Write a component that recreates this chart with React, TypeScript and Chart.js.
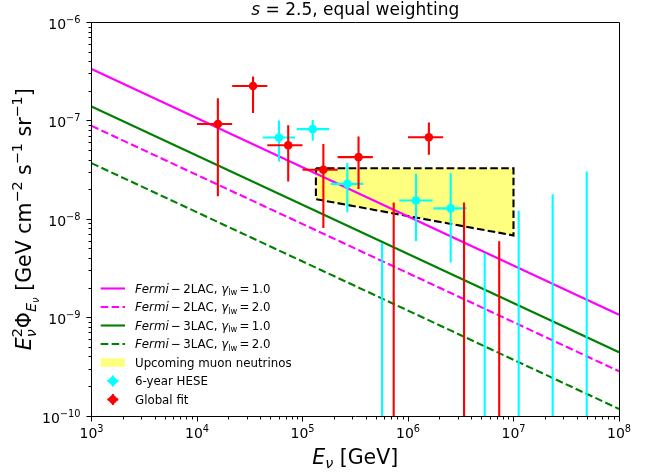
import { useEffect, useRef } from 'react';
import { Chart, registerables } from 'chart.js';

Chart.register(...registerables);

// ---------------- data ----------------
const LINE_ENERGY = [1e3, 1e8];
const FERMI_2LAC_G1 = [3.37e-7, 1.07e-9];
const FERMI_2LAC_G2 = [8.9e-8, 2.85e-10];
const FERMI_3LAC_G1 = [1.4e-7, 4.45e-10];
const FERMI_3LAC_G2 = [3.72e-8, 1.18e-10];

const MUON_ENERGY = [1.34e5, 1e7, 1e7, 1.34e5, 1.34e5];
const MUON_FLUX = [3.3e-8, 3.3e-8, 6.85e-9, 1.6e-8, 3.3e-8];

const HESE_E = [5.98e4, 1.25e5, 2.66e5, 1.19e6, 2.54e6];
const HESE_E_LO = [4.2e4, 8.81e4, 1.85e5, 8.28e5, 1.74e6];
const HESE_E_HI = [8.49e4, 1.79e5, 3.77e5, 1.71e6, 3.6e6];
const HESE_FLUX = [6.78e-8, 8.24e-8, 2.29e-8, 1.55e-8, 1.29e-8];
const HESE_FLUX_LO = [3.86e-8, 6.27e-8, 1.18e-8, 5.96e-9, 3.64e-9];
const HESE_FLUX_HI = [1.01e-7, 1.02e-7, 3.72e-8, 2.9e-8, 2.94e-8];
const HESE_UL_E = [5.68e5, 5.33e6, 1.12e7, 2.35e7, 4.94e7];
const HESE_UL_FLUX = [5.73e-9, 4.54e-9, 1.22e-8, 1.8e-8, 3.05e-8];

const GLOBAL_E = [1.577e4, 3.398e4, 7.32e4, 1.577e5, 3.398e5, 1.577e6];
const GLOBAL_E_LO = [1e4, 2.154e4, 4.642e4, 1e5, 2.154e5, 1e6];
const GLOBAL_E_HI = [2.154e4, 4.642e4, 1e5, 2.154e5, 4.642e5, 2.154e6];
const GLOBAL_FLUX = [9.3e-8, 2.26e-7, 5.66e-8, 3.18e-8, 4.28e-8, 6.82e-8];
const GLOBAL_FLUX_LO = [1.71e-8, 1.2e-7, 2.42e-8, 8.15e-9, 2.03e-8, 4.52e-8];
const GLOBAL_FLUX_HI = [1.7e-7, 2.82e-7, 9.04e-8, 5.83e-8, 6.93e-8, 9.61e-8];
const GLOBAL_UL_E = [7.32e5, 3.4e6, 7.32e6];
const GLOBAL_UL_FLUX = [1.48e-8, 1.48e-8, 5.96e-9];

// upper limits extend down to zero flux (off the log axis)
const UL_FLOOR = 1e-12;

const X_TICK_EXP = [3, 4, 5, 6, 7, 8];
const Y_TICK_EXP = [-10, -9, -8, -7, -6];
const X_MIN = 1e3, X_MAX = 1e8, Y_MIN = 1e-10, Y_MAX = 1e-6;

const TITLE_TEXT = ['s', ' = 2.5', ', equal weighting'];
const LEGEND_LABELS = [
  'Fermi − 2LAC, γlw = 1.0',
  'Fermi − 2LAC, γlw = 2.0',
  'Fermi − 3LAC, γlw = 1.0',
  'Fermi − 3LAC, γlw = 2.0',
  'Upcoming muon neutrinos',
  '6-year HESE',
  'Global fit',
];

// ---------------- styling ----------------
const W = 647, H = 474;
const MAGENTA = '#ff00ff', GREEN = '#008000', CYAN = '#00ffff', RED = '#ff0000';
const YELLOW_FILL = 'rgba(255,255,0,0.5)';
const DASH = [7.6, 3.3];
const LW = 2.1;
const FAM = '"DejaVu Sans", "Liberation Sans", sans-serif';

type Seg = { t: string; s: number; i?: boolean; dy?: number };
type Col = Seg | Seg[];
const fontOf = (g: Seg) => `${g.i ? 'italic ' : ''}${g.s}px ${FAM}`;

function richWidth(ctx: CanvasRenderingContext2D, cols: Col[]) {
  let w = 0;
  for (const c of cols) {
    const arr = Array.isArray(c) ? c : [c];
    let m = 0;
    for (const g of arr) { ctx.font = fontOf(g); m = Math.max(m, ctx.measureText(g.t).width); }
    w += m;
  }
  return w;
}
function drawRich(ctx: CanvasRenderingContext2D, cols: Col[], x: number, y: number, align: 'left' | 'center' | 'right') {
  const w = richWidth(ctx, cols);
  let cx = align === 'center' ? x - w / 2 : align === 'right' ? x - w : x;
  ctx.textAlign = 'left';
  ctx.textBaseline = 'alphabetic';
  for (const c of cols) {
    const arr = Array.isArray(c) ? c : [c];
    let m = 0;
    for (const g of arr) {
      ctx.font = fontOf(g);
      ctx.fillText(g.t, cx, y + (g.dy || 0));
      m = Math.max(m, ctx.measureText(g.t).width);
    }
    cx += m;
  }
}

function lineData(xs: number[], ys: number[]) {
  return xs.map((x, k) => ({ x, y: ys[k] }));
}
function errBars(E: number[], Elo: number[], Ehi: number[], F: number[], Flo: number[], Fhi: number[]) {
  const out: { x: number; y: number | null }[] = [];
  E.forEach((e, k) => {
    out.push({ x: Elo[k], y: F[k] }, { x: Ehi[k], y: F[k] }, { x: e, y: null });
    out.push({ x: e, y: Flo[k] }, { x: e, y: Fhi[k] }, { x: e, y: null });
  });
  return out;
}
function ulBars(E: number[], F: number[]) {
  const out: { x: number; y: number | null }[] = [];
  E.forEach((e, k) => {
    out.push({ x: e, y: UL_FLOOR }, { x: e, y: F[k] }, { x: e, y: null });
  });
  return out;
}

const snap = (v: number) => Math.floor(v) + 0.5;

const decorPlugin = {
  id: 'decor',
  afterDraw(chart: any) {
    const ctx: CanvasRenderingContext2D = chart.ctx;
    const { left, right, top, bottom } = chart.chartArea;
    const xs = chart.scales.x, ys = chart.scales.y;
    ctx.save();
    ctx.fillStyle = '#000';
    ctx.strokeStyle = '#000';
    ctx.lineWidth = 1;
    ctx.setLineDash([]);

    // frame
    ctx.beginPath();
    ctx.rect(snap(left), snap(top), snap(right) - snap(left), snap(bottom) - snap(top));
    ctx.stroke();

    // ticks
    ctx.beginPath();
    X_TICK_EXP.forEach((e) => {
      const px = snap(xs.getPixelForValue(Math.pow(10, e)));
      ctx.moveTo(px, snap(bottom)); ctx.lineTo(px, snap(bottom) + 5);
      if (e < X_TICK_EXP[X_TICK_EXP.length - 1]) {
        for (let m = 2; m <= 9; m++) {
          const p = snap(xs.getPixelForValue(m * Math.pow(10, e)));
          ctx.moveTo(p, snap(bottom)); ctx.lineTo(p, snap(bottom) + 3);
        }
      }
    });
    Y_TICK_EXP.forEach((e) => {
      const py = snap(ys.getPixelForValue(Math.pow(10, e)));
      ctx.moveTo(snap(left), py); ctx.lineTo(snap(left) - 5, py);
      if (e < Y_TICK_EXP[Y_TICK_EXP.length - 1]) {
        for (let m = 2; m <= 9; m++) {
          const p = snap(ys.getPixelForValue(m * Math.pow(10, e)));
          ctx.moveTo(snap(left), p); ctx.lineTo(snap(left) - 3, p);
        }
      }
    });
    ctx.stroke();

    // tick labels
    const sup = (e: number) => (e < 0 ? '−' + Math.abs(e) : String(e));
    X_TICK_EXP.forEach((e) => {
      const px = xs.getPixelForValue(Math.pow(10, e));
      drawRich(ctx, [{ t: '10', s: 14 }, { t: sup(e), s: 9.8, dy: -6 }], px, bottom + 22, 'center');
    });
    Y_TICK_EXP.forEach((e) => {
      const py = ys.getPixelForValue(Math.pow(10, e));
      drawRich(ctx, [{ t: '10', s: 14 }, { t: sup(e), s: 9.8, dy: -6 }], left - 11, py + 6.6, 'right');
    });

    // title
    const cxm = (left + right) / 2;
    drawRich(ctx, [{ t: TITLE_TEXT[0], s: 17, i: true }, { t: TITLE_TEXT[1], s: 17 }, { t: TITLE_TEXT[2], s: 17 }], cxm, 14.5, 'center');

    // x label
    const AL = 20.5, AS = 14.35;
    drawRich(ctx, [{ t: 'E', s: AL, i: true }, { t: 'ν', s: AS, i: true, dy: 4.5 }, { t: ' [GeV]', s: AL }], cxm, bottom + 47.5, 'center');

    // y label
    ctx.save();
    ctx.translate(31, (top + bottom) / 2);
    ctx.rotate(-Math.PI / 2);
    drawRich(ctx, [
      { t: 'E', s: AL, i: true },
      [{ t: '2', s: AS, dy: -9 }, { t: 'ν', s: AS, i: true, dy: 5 }],
      { t: 'Φ', s: AL },
      { t: 'E', s: AS, i: true, dy: 5 },
      { t: 'ν', s: 10, i: true, dy: 8 },
      { t: ' [GeV cm', s: AL },
      { t: '−2', s: AS, dy: -8.6 },
      { t: ' s', s: AL },
      { t: '−1', s: AS, dy: -8.6 },
      { t: ' sr', s: AL },
      { t: '−1', s: AS, dy: -8.6 },
      { t: ']', s: AL },
    ], 0, 0, 'center');
    ctx.restore();

    // legend
    const L = 11.8;
    const hx0 = left + 9.2, hx1 = left + 33.5, tx = left + 43.5;
    const rowY = (k: number) => top + 266 + k * 18.5;
    const lineRows = [
      { c: MAGENTA, d: [] as number[], lab: '2LAC', g: '1.0' },
      { c: MAGENTA, d: DASH, lab: '2LAC', g: '2.0' },
      { c: GREEN, d: [] as number[], lab: '3LAC', g: '1.0' },
      { c: GREEN, d: DASH, lab: '3LAC', g: '2.0' },
    ];
    lineRows.forEach((r, k) => {
      const y = rowY(k);
      ctx.save();
      ctx.strokeStyle = r.c; ctx.lineWidth = LW; ctx.setLineDash(r.d); ctx.lineCap = 'butt';
      ctx.beginPath(); ctx.moveTo(hx0, y); ctx.lineTo(hx1, y); ctx.stroke();
      ctx.restore();
      ctx.fillStyle = '#000';
      drawRich(ctx, [
        { t: 'Fermi', s: L, i: true },
        { t: '\u2009−\u2009' + r.lab + ', ', s: L },
        { t: 'γ', s: L, i: true },
        { t: 'lw', s: L * 0.7, dy: 2.6 },
        { t: '\u2009=\u2009' + r.g, s: L },
      ], tx, y + 4.3, 'left');
    });
    // patch
    {
      const y = rowY(4);
      ctx.fillStyle = YELLOW_FILL;
      ctx.fillRect(hx0, y - 4.3, hx1 - hx0, 8.6);
      ctx.fillStyle = '#000';
      drawRich(ctx, [{ t: LEGEND_LABELS[4], s: L }], tx, y + 4.3, 'left');
    }
    // markers
    [[CYAN, 5], [RED, 6]].forEach(([c, k]) => {
      const y = rowY(k as number);
      const x = (hx0 + hx1) / 2;
      ctx.save();
      ctx.strokeStyle = c as string; ctx.fillStyle = c as string; ctx.lineWidth = 2;
      ctx.beginPath(); ctx.moveTo(x - 5.5, y); ctx.lineTo(x + 5.5, y); ctx.moveTo(x, y - 5.5); ctx.lineTo(x, y + 5.5); ctx.stroke();
      ctx.beginPath(); ctx.arc(x, y, 3.6, 0, Math.PI * 2); ctx.fill();
      ctx.beginPath(); ctx.moveTo(x - 5.5, y); ctx.lineTo(x, y - 5.5); ctx.lineTo(x + 5.5, y); ctx.lineTo(x, y + 5.5); ctx.closePath(); ctx.fill();
      ctx.restore();
      ctx.fillStyle = '#000';
      drawRich(ctx, [{ t: LEGEND_LABELS[k as number], s: L }], tx, y + 4.3, 'left');
    });

    ctx.restore();
  },
};

export default function App() {
  const ref = useRef<HTMLCanvasElement>(null);
  useEffect(() => {
    const lineBase = { type: 'line', pointRadius: 0, borderWidth: LW, fill: false, borderCapStyle: 'butt', tension: 0 };
    const chart = new Chart(ref.current as HTMLCanvasElement, {
      type: 'line',
      data: {
        datasets: [
          { ...lineBase, label: LEGEND_LABELS[4], data: lineData(MUON_ENERGY, MUON_FLUX), borderColor: '#000', borderDash: DASH, backgroundColor: YELLOW_FILL, fill: 'shape', borderJoinStyle: 'miter', order: 10 },
          { ...lineBase, label: LEGEND_LABELS[0], data: lineData(LINE_ENERGY, FERMI_2LAC_G1), borderColor: MAGENTA, order: 9 },
          { ...lineBase, label: LEGEND_LABELS[1], data: lineData(LINE_ENERGY, FERMI_2LAC_G2), borderColor: MAGENTA, borderDash: DASH, order: 9 },
          { ...lineBase, label: LEGEND_LABELS[2], data: lineData(LINE_ENERGY, FERMI_3LAC_G1), borderColor: GREEN, order: 9 },
          { ...lineBase, label: LEGEND_LABELS[3], data: lineData(LINE_ENERGY, FERMI_3LAC_G2), borderColor: GREEN, borderDash: DASH, order: 9 },
          { ...lineBase, label: 'HESE upper limits', data: ulBars(HESE_UL_E, HESE_UL_FLUX), borderColor: CYAN, order: 7 },
          { ...lineBase, label: 'HESE errors', data: errBars(HESE_E, HESE_E_LO, HESE_E_HI, HESE_FLUX, HESE_FLUX_LO, HESE_FLUX_HI), borderColor: CYAN, order: 6 },
          { type: 'scatter', label: LEGEND_LABELS[5], data: lineData(HESE_E, HESE_FLUX), pointRadius: 4.3, pointBackgroundColor: CYAN, pointBorderWidth: 0, showLine: false, order: 5 },
          { ...lineBase, label: 'Global upper limits', data: ulBars(GLOBAL_UL_E, GLOBAL_UL_FLUX), borderColor: RED, order: 4 },
          { ...lineBase, label: 'Global errors', data: errBars(GLOBAL_E, GLOBAL_E_LO, GLOBAL_E_HI, GLOBAL_FLUX, GLOBAL_FLUX_LO, GLOBAL_FLUX_HI), borderColor: RED, order: 3 },
          { type: 'scatter', label: LEGEND_LABELS[6], data: lineData(GLOBAL_E, GLOBAL_FLUX), pointRadius: 4.3, pointBackgroundColor: RED, pointBorderWidth: 0, showLine: false, order: 2 },
        ] as any,
      },
      options: {
        responsive: false,
        animation: false,
        events: [],
        spanGaps: false,
        layout: { padding: { top: 22.5, right: 28, left: 0, bottom: 0 } },
        plugins: { legend: { display: false }, title: { display: false }, tooltip: { enabled: false } },
        scales: {
          x: {
            type: 'logarithmic', min: X_MIN, max: X_MAX,
            grid: { display: false }, border: { display: false }, ticks: { display: false },
            afterFit: (s: any) => { s.height = 58; },
          },
          y: {
            type: 'logarithmic', min: Y_MIN, max: Y_MAX,
            grid: { display: false }, border: { display: false }, ticks: { display: false },
            afterFit: (s: any) => { s.width = 91.5; },
          },
        },
      } as any,
      plugins: [decorPlugin],
    });
    return () => chart.destroy();
  }, []);
  return (
    <div style={{ position: 'fixed', left: 0, top: 0, width: W, height: H, background: '#fff' }}>
      <canvas ref={ref} width={W} height={H} style={{ width: W, height: H, display: 'block' }} />
    </div>
  );
}
